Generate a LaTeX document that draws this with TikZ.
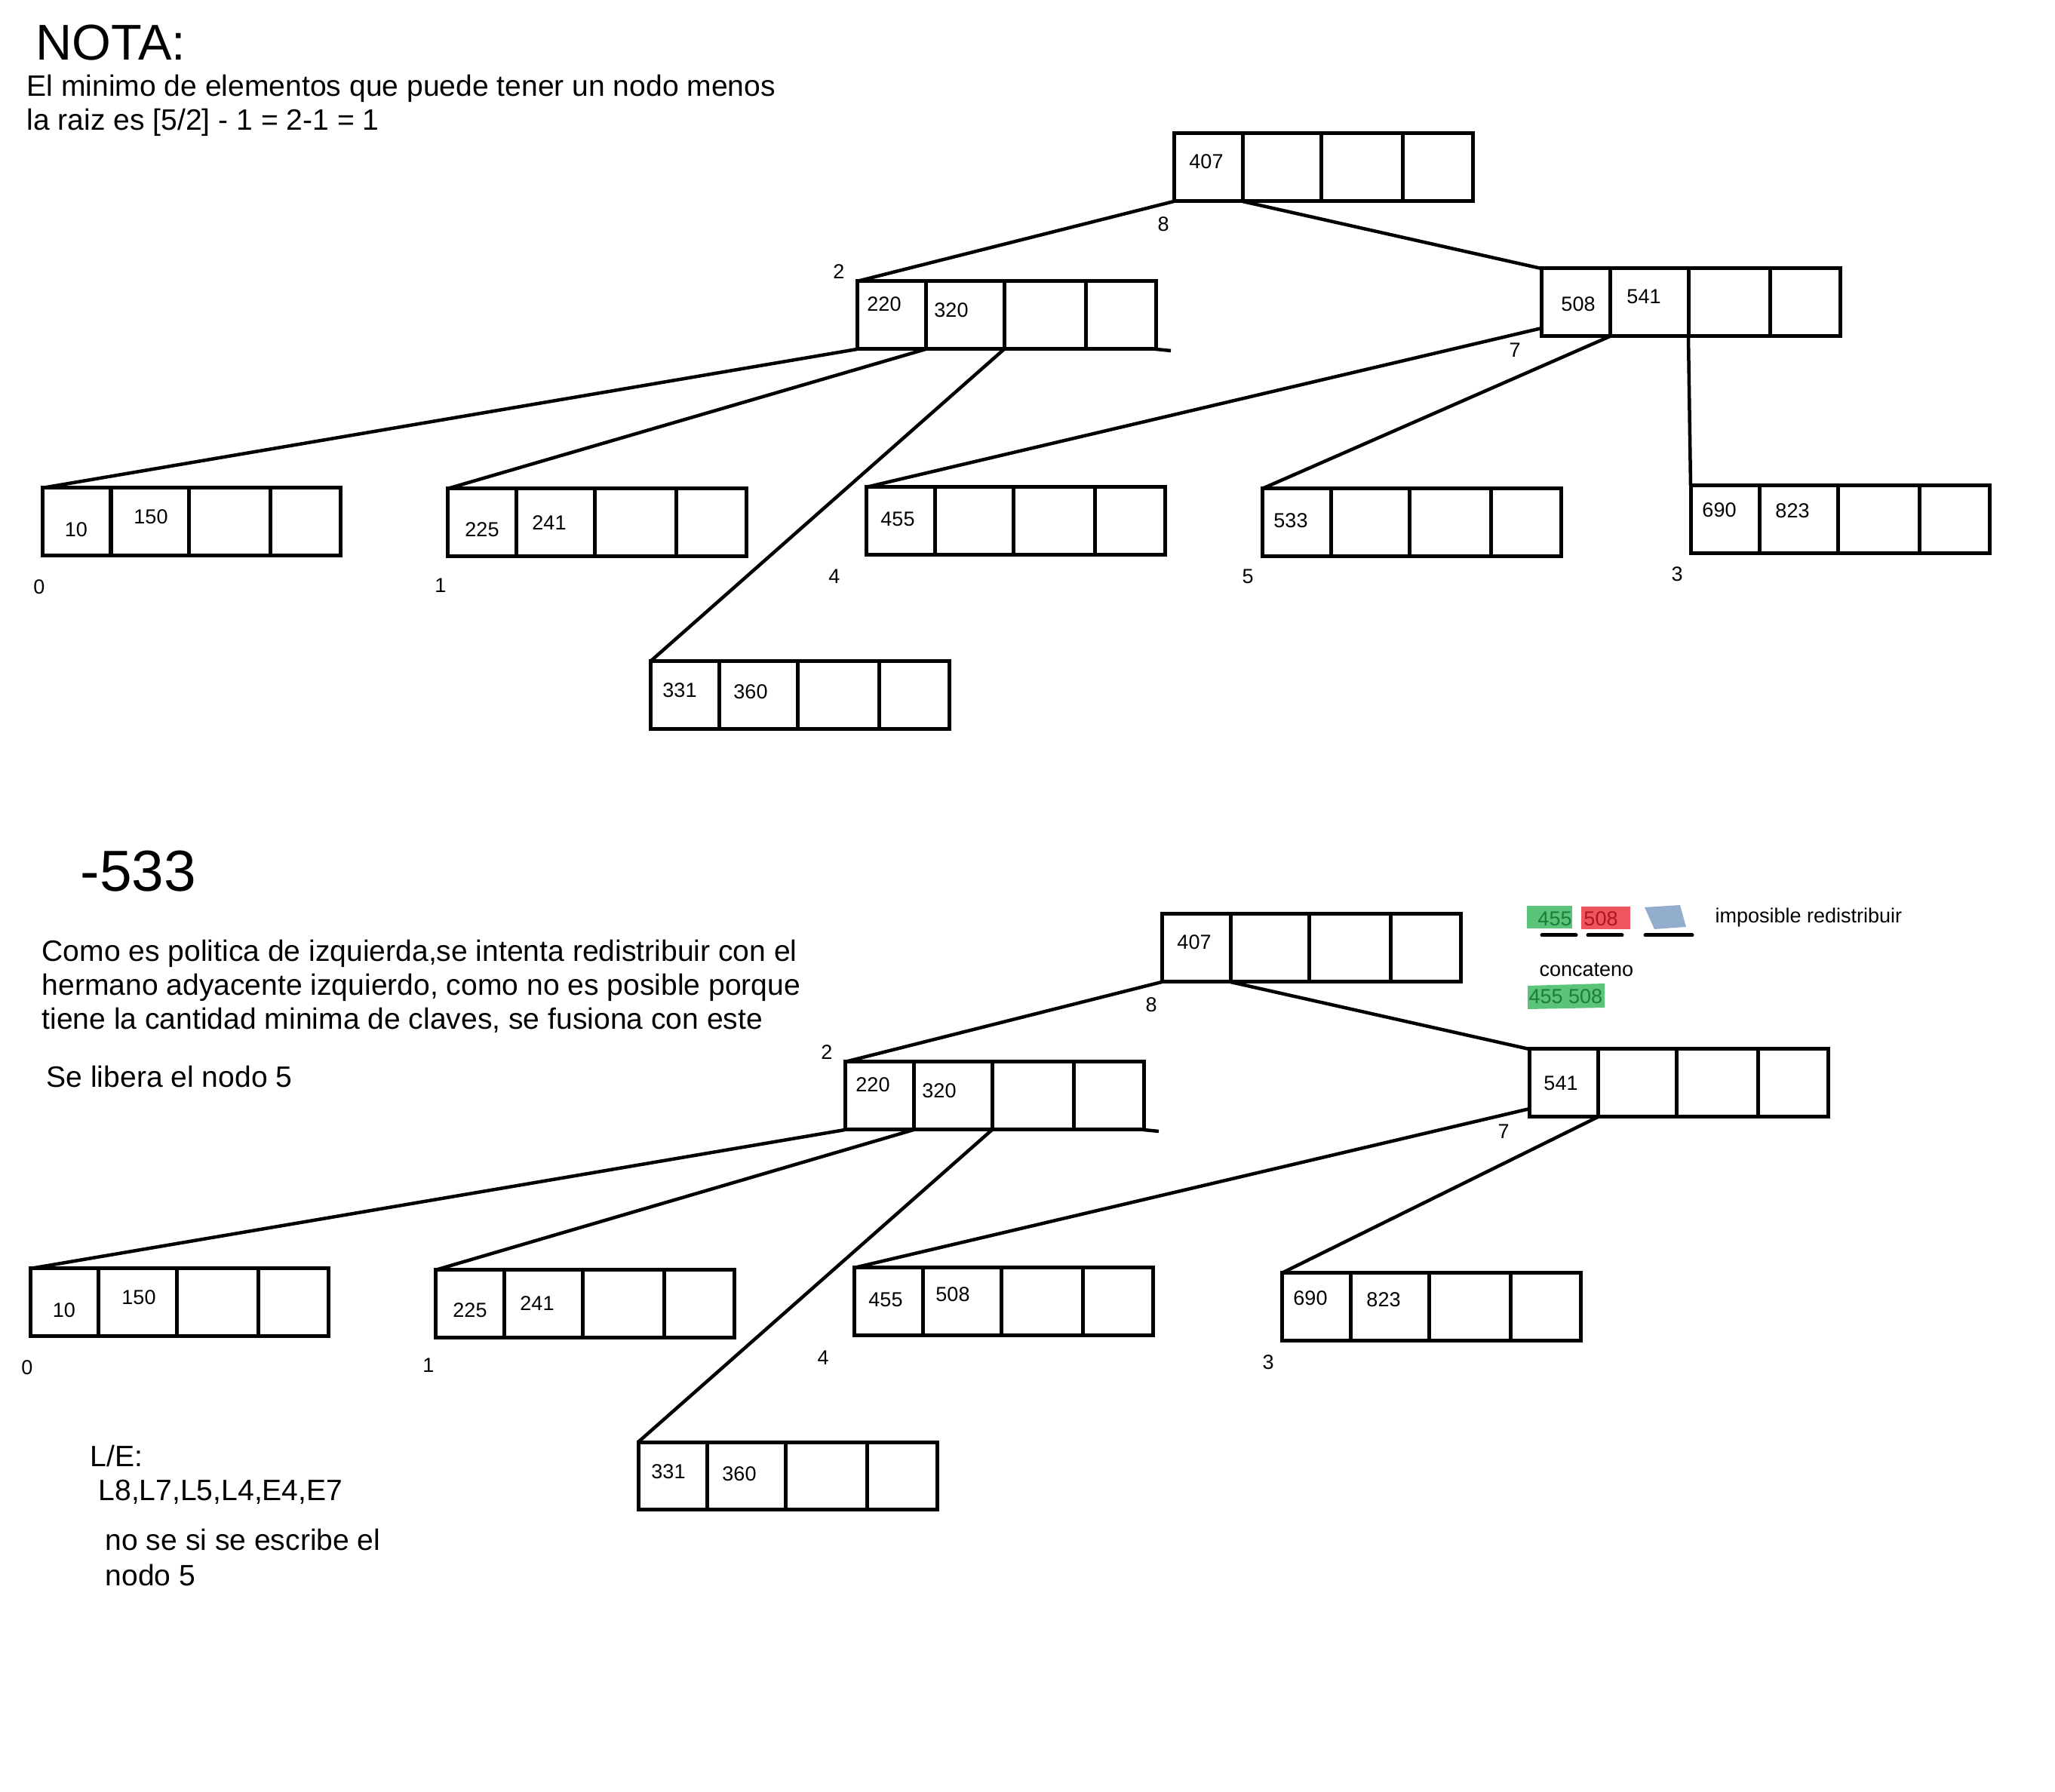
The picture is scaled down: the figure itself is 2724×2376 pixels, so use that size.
\documentclass[tikz,border=0pt]{standalone}
\usepackage{fontspec}
\setmainfont{Liberation Sans}
\usetikzlibrary{calc}
\definecolor{lgreen}{HTML}{5AC478}
\definecolor{dgreen}{HTML}{1F7A3C}
\definecolor{lred}{HTML}{F0555F}
\definecolor{dred}{HTML}{B0141E}
\definecolor{lblue}{HTML}{93AECD}
\newcommand\bnode[3]{%
  \node[cell,minimum width=27.3pt] (#1a) at (#2,#3) {};
  \node[cell,minimum width=31.2pt] (#1b) at (#1a.north east) {};
  \node[cell,minimum width=32.4pt] (#1c) at (#1b.north east) {};
  \node[cell,minimum width=27.9pt] (#1d) at (#1c.north east) {};
}
\begin{document}
\begin{tikzpicture}[x=0.3pt,y=-0.3pt,
  cell/.style={draw,line width=1.5pt,minimum height=27pt,inner sep=0pt,outer sep=0pt,anchor=north west},
  key/.style={font=\fontsize{8.1}{9.6}\selectfont,inner sep=0pt},
  lbl/.style={font=\fontsize{8.1}{9.6}\selectfont,inner sep=0pt},
  edge/.style={line width=1.35pt},
  txt/.style={font=\fontsize{11.72}{13.5}\selectfont,anchor=base west,inner sep=0pt,align=left},
  uline/.style={line width=1.5pt,line cap=round}]
\useasboundingbox (0,0) rectangle (2724,2376);

% ---------- top texts ----------
\node[font=\fontsize{20}{22}\selectfont,anchor=base west,inner sep=0pt] (nota) at (47,80) {NOTA:};
\node[txt] (nota1) at (35,128) {El minimo de elementos que puede tener un nodo menos};
\node[txt] (nota2) at (35,173) {la raiz es [5/2] - 1 = 2-1 = 1};

% ---------- top tree ----------
\bnode{tR}{1556}{177}
\bnode{tN}{1136}{373}
\bnode{tS}{2043}{356}
\bnode{tZ}{56}{647}
\bnode{tO}{593}{648}
\bnode{tF}{1148}{646}
\bnode{tV}{1673}{648}
\bnode{tT}{2241}{644}
\bnode{tX}{862}{877}

\node[key] (k407t) at (1599,214) {407};
\node[key] (k220t) at (1172,403) {220};
\node[key] (k320t) at (1261,411) {320};
\node[key] (k508t) at (2092,403) {508};
\node[key] (k541t) at (2179,393) {541};
\node[key] (k10t)  at (101,702) {10};
\node[key] (k150t) at (200,685) {150};
\node[key] (k225t) at (639,702) {225};
\node[key] (k241t) at (728,693) {241};
\node[key] (k455t) at (1190,688) {455};
\node[key] (k533t) at (1711,690) {533};
\node[key] (k690t) at (2279,676) {690};
\node[key] (k823t) at (2376,677) {823};
\node[key] (k331t) at (901,915) {331};
\node[key] (k360t) at (995,917) {360};

\node[lbl] (d8t) at (1542,297) {8};
\node[lbl] (d2t) at (1112,360) {2};
\node[lbl] (d7t) at (2008,464) {7};
\node[lbl] (d0t) at (52,778) {0};
\node[lbl] (d1t) at (584,776) {1};
\node[lbl] (d4t) at (1106,764) {4};
\node[lbl] (d5t) at (1654,764) {5};
\node[lbl] (d3t) at (2223,761) {3};

\draw[edge] (tRa.south west) -- (tNa.north west);
\draw[edge] (tRb.south west) -- (tSa.north west);
\draw[edge] (tNa.south west) -- (tZa.north west);
\draw[edge] (tNb.south west) -- (tOa.north west);
\draw[edge] (tNc.south west) -- (tXa.north west);
\draw[edge] (tNd.south east) -- ++(20,2);
\draw[edge] ($(tSa.south west)!0.12!(tSa.north west)$) -- (tFa.north west);
\draw[edge] (tSb.south west) -- (tVa.north west);
\draw[edge] (tSc.south west) -- (tTa.north west);

% ---------- bottom texts ----------
\node[font=\fontsize{23}{25}\selectfont,anchor=base west,inner sep=0pt] (del) at (106,1182) {-533};
\node[txt] (c1) at (55,1275) {Como es politica de izquierda,se intenta redistribuir con el};
\node[txt] (c2) at (55,1320) {hermano adyacente izquierdo, como no es posible porque};
\node[txt] (c3) at (55,1365) {tiene la cantidad minima de claves, se fusiona con este};
\node[txt] (lib) at (61,1442) {Se libera el nodo 5};
\node[txt] (le) at (119,1945) {L/E:};
\node[txt] (le2) at (130,1990) {L8,L7,L5,L4,E4,E7};
\node[txt] (ns1) at (139,2055) {no se si se escribe el};
\node[txt] (ns2) at (139,2102) {nodo 5};

% ---------- legend ----------
\fill[lgreen] (2024,1201) rectangle (2084,1231);
\fill[lred] (2096,1202) rectangle (2161,1232);
\fill[lblue] (2180,1203) -- (2227,1200) -- (2235,1229) -- (2193,1232) -- cycle;
\node[key,text=dgreen] (g455) at (2061,1218) {455};
\node[key,text=dred] (r508) at (2122,1218) {508};
\draw[uline] (2044,1240) -- (2089,1240);
\draw[uline] (2105,1240) -- (2150,1240);
\draw[uline] (2181,1240) -- (2243,1240);
\node[key,anchor=west] (imp) at (2273,1217) {imposible redistribuir};
\node[key,anchor=west] (conc) at (2040,1286) {concateno};
\fill[lgreen] (2025,1307) -- (2127,1304) -- (2127,1336) -- (2025,1338) -- cycle;
\node[key,anchor=west,text=dgreen] (g455508) at (2026,1321) {455 508};

% ---------- bottom tree ----------
\bnode{bR}{1540}{1212}
\bnode{bN}{1120}{1408}
\bnode{bS}{2027}{1391}
\bnode{bZ}{40}{1682}
\bnode{bO}{577}{1684}
\bnode{bF}{1132}{1681}
\bnode{bT}{1699}{1688}
\bnode{bX}{846}{1912}

\node[key] (k407b) at (1583,1249) {407};
\node[key] (k220b) at (1157,1438) {220};
\node[key] (k320b) at (1245,1446) {320};
\node[key] (k541b) at (2069,1436) {541};
\node[key] (k10b)  at (85,1737) {10};
\node[key] (k150b) at (184,1720) {150};
\node[key] (k225b) at (623,1737) {225};
\node[key] (k241b) at (712,1728) {241};
\node[key] (k455b) at (1174,1723) {455};
\node[key] (k508b) at (1263,1716) {508};
\node[key] (k690b) at (1737,1721) {690};
\node[key] (k823b) at (1834,1723) {823};
\node[key] (k331b) at (886,1951) {331};
\node[key] (k360b) at (980,1954) {360};

\node[lbl] (d8b) at (1526,1332) {8};
\node[lbl] (d2b) at (1096,1395) {2};
\node[lbl] (d7b) at (1993,1500) {7};
\node[lbl] (d0b) at (36,1813) {0};
\node[lbl] (d1b) at (568,1810) {1};
\node[lbl] (d4b) at (1091,1800) {4};
\node[lbl] (d3b) at (1681,1806) {3};

\draw[edge] (bRa.south west) -- (bNa.north west);
\draw[edge] (bRb.south west) -- (bSa.north west);
\draw[edge] (bNa.south west) -- (bZa.north west);
\draw[edge] (bNb.south west) -- (bOa.north west);
\draw[edge] (bNc.south west) -- (bXa.north west);
\draw[edge] (bNd.south east) -- ++(20,2);
\draw[edge] ($(bSa.south west)!0.12!(bSa.north west)$) -- (bFa.north west);
\draw[edge] (bSb.south west) -- (bTa.north west);
\end{tikzpicture}
\end{document}
